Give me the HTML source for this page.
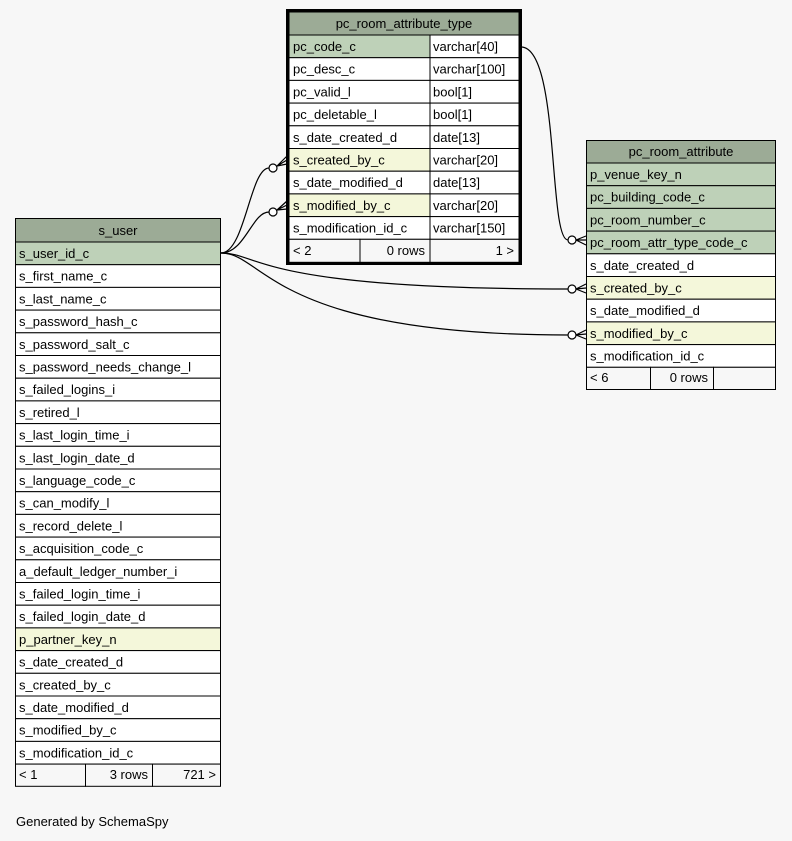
<!DOCTYPE html>
<html><head><meta charset="utf-8"><style>
html,body{margin:0;padding:0;background:#f7f7f7;}
svg{display:block;font-family:"Liberation Sans",sans-serif;font-size:13px;}
</style></head><body>
<svg width="792" height="841" viewBox="0 0 792 841" xmlns="http://www.w3.org/2000/svg">
<rect width="792" height="841" fill="#f7f7f7"/>
<g stroke="#000" fill="none" stroke-width="1.2">
<path d="M221,253 C245,253 250,168 269,168"/>
<path d="M221,253 C245,253 252,212 269,212"/>
<path d="M221,253 C260,253 255,289 568,289"/>
<path d="M221,253 C265,253 270,335 568,335"/>
<path d="M521,47 C560,47 548,240 568,240"/>
<circle cx="273" cy="168" r="4" fill="#fff"/>
<circle cx="273" cy="212" r="4" fill="#fff"/>
<circle cx="572" cy="240" r="4" fill="#fff"/>
<circle cx="572" cy="289" r="4" fill="#fff"/>
<circle cx="572" cy="335" r="4" fill="#fff"/>
<path d="M277,166 L287,156 M277,166 L287,160 M277,166 L287,164"/>
<path d="M277,210 L287,201 M277,210 L287,205 M277,210 L287,209"/>
<path d="M576,240 L586,236 M576,240 L586,240 M576,240 L586,245"/>
<path d="M576,289 L586,284 M576,289 L586,288 M576,289 L586,293"/>
<path d="M576,335 L586,330 M576,335 L586,334 M576,335 L586,339"/>
</g>

<!-- s_user -->
<g stroke="#000" stroke-width="1">
<rect x="15.5" y="218.5" width="205" height="23.5" fill="#9cab96"/>
<rect x="15.5" y="242" width="205" height="22.7" fill="#bed1b8"/>
<rect x="15.5" y="264.7" width="205" height="22.7" fill="#fff"/>
<rect x="15.5" y="287.4" width="205" height="22.7" fill="#fff"/>
<rect x="15.5" y="310.1" width="205" height="22.7" fill="#fff"/>
<rect x="15.5" y="332.8" width="205" height="22.7" fill="#fff"/>
<rect x="15.5" y="355.5" width="205" height="22.7" fill="#fff"/>
<rect x="15.5" y="378.2" width="205" height="22.7" fill="#fff"/>
<rect x="15.5" y="400.9" width="205" height="22.7" fill="#fff"/>
<rect x="15.5" y="423.6" width="205" height="22.7" fill="#fff"/>
<rect x="15.5" y="446.3" width="205" height="22.7" fill="#fff"/>
<rect x="15.5" y="469" width="205" height="22.7" fill="#fff"/>
<rect x="15.5" y="491.7" width="205" height="22.7" fill="#fff"/>
<rect x="15.5" y="514.4" width="205" height="22.7" fill="#fff"/>
<rect x="15.5" y="537.1" width="205" height="22.7" fill="#fff"/>
<rect x="15.5" y="559.8" width="205" height="22.7" fill="#fff"/>
<rect x="15.5" y="582.5" width="205" height="22.7" fill="#fff"/>
<rect x="15.5" y="605.2" width="205" height="22.7" fill="#fff"/>
<rect x="15.5" y="627.9" width="205" height="22.7" fill="#f4f7da"/>
<rect x="15.5" y="650.6" width="205" height="22.7" fill="#fff"/>
<rect x="15.5" y="673.3" width="205" height="22.7" fill="#fff"/>
<rect x="15.5" y="696" width="205" height="22.7" fill="#fff"/>
<rect x="15.5" y="718.7" width="205" height="22.7" fill="#fff"/>
<rect x="15.5" y="741.4" width="205" height="22.7" fill="#fff"/>
<rect x="15.5" y="764.1" width="70" height="22.2" fill="#f7f7f7"/>
<rect x="85.5" y="764.1" width="67" height="22.2" fill="#f7f7f7"/>
<rect x="152.5" y="764.1" width="68" height="22.2" fill="#f7f7f7"/>
</g>
<g fill="#000">
<text x="118" y="235" text-anchor="middle">s_user</text>
<text x="19" y="258">s_user_id_c</text>
<text x="19" y="280.7">s_first_name_c</text>
<text x="19" y="303.4">s_last_name_c</text>
<text x="19" y="326.1">s_password_hash_c</text>
<text x="19" y="348.8">s_password_salt_c</text>
<text x="19" y="371.5">s_password_needs_change_l</text>
<text x="19" y="394.2">s_failed_logins_i</text>
<text x="19" y="416.9">s_retired_l</text>
<text x="19" y="439.6">s_last_login_time_i</text>
<text x="19" y="462.3">s_last_login_date_d</text>
<text x="19" y="485">s_language_code_c</text>
<text x="19" y="507.7">s_can_modify_l</text>
<text x="19" y="530.4">s_record_delete_l</text>
<text x="19" y="553.1">s_acquisition_code_c</text>
<text x="19" y="575.8">a_default_ledger_number_i</text>
<text x="19" y="598.5">s_failed_login_time_i</text>
<text x="19" y="621.2">s_failed_login_date_d</text>
<text x="19" y="643.9">p_partner_key_n</text>
<text x="19" y="666.6">s_date_created_d</text>
<text x="19" y="689.3">s_created_by_c</text>
<text x="19" y="712">s_date_modified_d</text>
<text x="19" y="734.7">s_modified_by_c</text>
<text x="19" y="757.4">s_modification_id_c</text>
<text x="19" y="779">&lt; 1</text>
<text x="148" y="779" text-anchor="end">3 rows</text>
<text x="216" y="779" text-anchor="end">721 &gt;</text>
</g>

<!-- pc_room_attribute_type -->
<g stroke="#000" stroke-width="1">
<rect x="286.5" y="9.5" width="235" height="255" fill="#000"/>
<rect x="289" y="12" width="230" height="23" fill="#9cab96"/>
<rect x="289" y="35" width="141" height="22.7" fill="#bed1b8"/>
<rect x="289" y="57.7" width="141" height="22.7" fill="#fff"/>
<rect x="289" y="80.4" width="141" height="22.7" fill="#fff"/>
<rect x="289" y="103.1" width="141" height="22.7" fill="#fff"/>
<rect x="289" y="125.8" width="141" height="22.7" fill="#fff"/>
<rect x="289" y="148.5" width="141" height="22.7" fill="#f4f7da"/>
<rect x="289" y="171.2" width="141" height="22.7" fill="#fff"/>
<rect x="289" y="193.9" width="141" height="22.7" fill="#f4f7da"/>
<rect x="289" y="216.6" width="141" height="22.7" fill="#fff"/>
<rect x="430" y="35" width="89" height="22.7" fill="#fff"/>
<rect x="430" y="57.7" width="89" height="22.7" fill="#fff"/>
<rect x="430" y="80.4" width="89" height="22.7" fill="#fff"/>
<rect x="430" y="103.1" width="89" height="22.7" fill="#fff"/>
<rect x="430" y="125.8" width="89" height="22.7" fill="#fff"/>
<rect x="430" y="148.5" width="89" height="22.7" fill="#fff"/>
<rect x="430" y="171.2" width="89" height="22.7" fill="#fff"/>
<rect x="430" y="193.9" width="89" height="22.7" fill="#fff"/>
<rect x="430" y="216.6" width="89" height="22.7" fill="#fff"/>
<rect x="289" y="239.3" width="71" height="23" fill="#f7f7f7"/>
<rect x="360" y="239.3" width="70" height="23" fill="#f7f7f7"/>
<rect x="430" y="239.3" width="89" height="23" fill="#f7f7f7"/>
</g>
<g fill="#000">
<text x="404" y="28" text-anchor="middle">pc_room_attribute_type</text>
<text x="293" y="51">pc_code_c</text><text x="433" y="51">varchar[40]</text>
<text x="293" y="73.7">pc_desc_c</text><text x="433" y="73.7">varchar[100]</text>
<text x="293" y="96.4">pc_valid_l</text><text x="433" y="96.4">bool[1]</text>
<text x="293" y="119.1">pc_deletable_l</text><text x="433" y="119.1">bool[1]</text>
<text x="293" y="141.8">s_date_created_d</text><text x="433" y="141.8">date[13]</text>
<text x="293" y="164.5">s_created_by_c</text><text x="433" y="164.5">varchar[20]</text>
<text x="293" y="187.2">s_date_modified_d</text><text x="433" y="187.2">date[13]</text>
<text x="293" y="209.9">s_modified_by_c</text><text x="433" y="209.9">varchar[20]</text>
<text x="293" y="232.6">s_modification_id_c</text><text x="433" y="232.6">varchar[150]</text>
<text x="293" y="255">&lt; 2</text>
<text x="425" y="255" text-anchor="end">0 rows</text>
<text x="514" y="255" text-anchor="end">1 &gt;</text>
</g>

<!-- pc_room_attribute -->
<g stroke="#000" stroke-width="1">
<rect x="586.5" y="140.5" width="189" height="22.5" fill="#9cab96"/>
<rect x="586.5" y="163" width="189" height="22.7" fill="#bed1b8"/>
<rect x="586.5" y="185.7" width="189" height="22.7" fill="#bed1b8"/>
<rect x="586.5" y="208.4" width="189" height="22.7" fill="#bed1b8"/>
<rect x="586.5" y="231.1" width="189" height="22.7" fill="#bed1b8"/>
<rect x="586.5" y="253.8" width="189" height="22.7" fill="#fff"/>
<rect x="586.5" y="276.5" width="189" height="22.7" fill="#f4f7da"/>
<rect x="586.5" y="299.2" width="189" height="22.7" fill="#fff"/>
<rect x="586.5" y="321.9" width="189" height="22.7" fill="#f4f7da"/>
<rect x="586.5" y="344.6" width="189" height="22.7" fill="#fff"/>
<rect x="586.5" y="367.3" width="64" height="22.2" fill="#f7f7f7"/>
<rect x="650.5" y="367.3" width="63" height="22.2" fill="#f7f7f7"/>
<rect x="713.5" y="367.3" width="62" height="22.2" fill="#f7f7f7"/>
</g>
<g fill="#000">
<text x="681" y="156" text-anchor="middle">pc_room_attribute</text>
<text x="590" y="179">p_venue_key_n</text>
<text x="590" y="201.7">pc_building_code_c</text>
<text x="590" y="224.4">pc_room_number_c</text>
<text x="590" y="247.1">pc_room_attr_type_code_c</text>
<text x="590" y="269.8">s_date_created_d</text>
<text x="590" y="292.5">s_created_by_c</text>
<text x="590" y="315.2">s_date_modified_d</text>
<text x="590" y="337.9">s_modified_by_c</text>
<text x="590" y="360.6">s_modification_id_c</text>
<text x="590" y="382">&lt; 6</text>
<text x="708" y="382" text-anchor="end">0 rows</text>
</g>

<text x="16" y="826" fill="#000">Generated by SchemaSpy</text>
</svg>
</body></html>
